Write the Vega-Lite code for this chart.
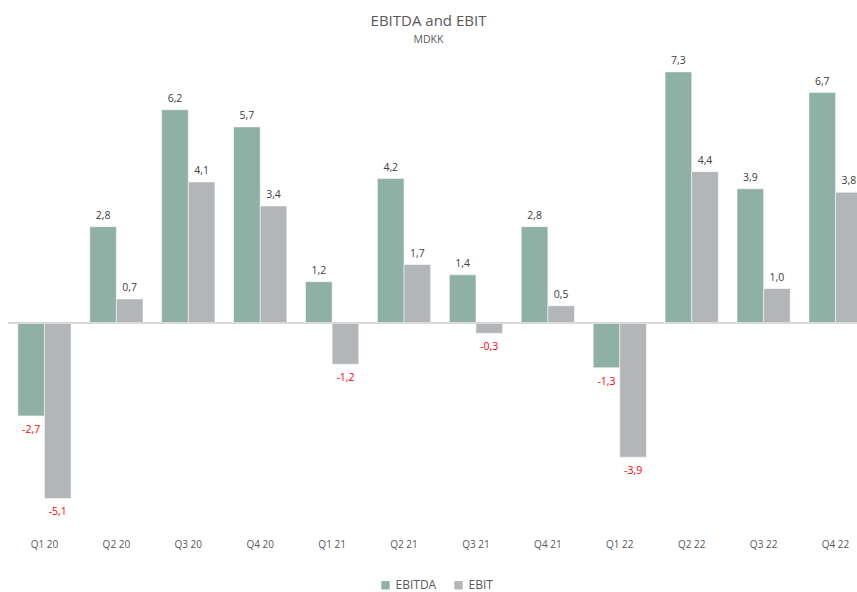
{
  "$schema": "https://vega.github.io/schema/vega-lite/v6.json",
  "autosize": "none",
  "width": 848,
  "height": 481.6,
  "padding": {"left": 8.5, "top": 47.8, "right": 0, "bottom": 62.6},
  "background": "white",
  "config": {
    "view": {"stroke": null},
    "font": "Open Sans",
    "locale": {"number": {"decimal": ",", "thousands": ".", "grouping": [3], "currency": ["", " kr"], "minus": "-"}}
  },
  "title": {
    "text": "EBITDA and EBIT",
    "subtitle": "MDKK",
    "font": "Open Sans",
    "fontSize": 15,
    "fontWeight": "normal",
    "color": "#595959",
    "subtitleFont": "Open Sans",
    "subtitleFontSize": 10.5,
    "subtitleColor": "#595959",
    "subtitlePadding": 6,
    "anchor": "middle",
    "dx": -4,
    "offset": 2
  },
  "data": {
    "values": [
      {"q": "Q1 20", "series": "EBITDA", "v": -2.7}, {"q": "Q1 20", "series": "EBIT", "v": -5.1},
      {"q": "Q2 20", "series": "EBITDA", "v": 2.8}, {"q": "Q2 20", "series": "EBIT", "v": 0.7},
      {"q": "Q3 20", "series": "EBITDA", "v": 6.2}, {"q": "Q3 20", "series": "EBIT", "v": 4.1},
      {"q": "Q4 20", "series": "EBITDA", "v": 5.7}, {"q": "Q4 20", "series": "EBIT", "v": 3.4},
      {"q": "Q1 21", "series": "EBITDA", "v": 1.2}, {"q": "Q1 21", "series": "EBIT", "v": -1.2},
      {"q": "Q2 21", "series": "EBITDA", "v": 4.2}, {"q": "Q2 21", "series": "EBIT", "v": 1.7},
      {"q": "Q3 21", "series": "EBITDA", "v": 1.4}, {"q": "Q3 21", "series": "EBIT", "v": -0.3},
      {"q": "Q4 21", "series": "EBITDA", "v": 2.8}, {"q": "Q4 21", "series": "EBIT", "v": 0.5},
      {"q": "Q1 22", "series": "EBITDA", "v": -1.3}, {"q": "Q1 22", "series": "EBIT", "v": -3.9},
      {"q": "Q2 22", "series": "EBITDA", "v": 7.3}, {"q": "Q2 22", "series": "EBIT", "v": 4.4},
      {"q": "Q3 22", "series": "EBITDA", "v": 3.9}, {"q": "Q3 22", "series": "EBIT", "v": 1.0},
      {"q": "Q4 22", "series": "EBITDA", "v": 6.7}, {"q": "Q4 22", "series": "EBIT", "v": 3.8}
    ]
  },
  "encoding": {
    "x": {
      "field": "q", "type": "nominal", "sort": null,
      "scale": {"range": [0, 863], "paddingInner": 0.26, "paddingOuter": 0.13},
      "axis": {"title": null, "domain": false, "ticks": false, "grid": false, "labelAngle": 0,
               "labelFont": "Open Sans", "labelFontSize": 10, "labelColor": "#595959", "labelPadding": 10}
    },
    "xOffset": {"field": "series", "type": "nominal", "sort": ["EBITDA", "EBIT"]},
    "y": {
      "field": "v", "type": "quantitative",
      "scale": {"domain": [-6, 8], "nice": false, "zero": false},
      "axis": null
    }
  },
  "layer": [
    {
      "mark": {"type": "bar", "stroke": "white", "strokeWidth": 0.5},
      "encoding": {
        "color": {
          "field": "series", "type": "nominal",
          "scale": {"domain": ["EBITDA", "EBIT"], "range": ["#8FB0A4", "#B2B6B9"]},
          "legend": {
            "title": null, "orient": "none", "direction": "horizontal",
            "legendX": 371, "legendY": 531.5,
            "symbolType": "square", "symbolSize": 70, "symbolStrokeWidth": 0,
            "labelFont": "Open Sans", "labelFontSize": 12, "labelColor": "#595959",
            "columnPadding": 16, "labelOffset": 4
          }
        }
      }
    },
    {
      "mark": {"type": "rule", "color": "#D9D9D9", "strokeWidth": 1.2},
      "encoding": {"x": null, "xOffset": null, "y": {"datum": 0, "type": "quantitative"}}
    },
    {
      "transform": [{"filter": "datum.v >= 0"}],
      "mark": {"type": "text", "baseline": "bottom", "dy": -6, "fontSize": 10.5, "color": "#404040", "font": "Open Sans"},
      "encoding": {"text": {"field": "v", "type": "quantitative", "format": ".1f"}}
    },
    {
      "transform": [{"filter": "datum.v < 0"}],
      "mark": {"type": "text", "baseline": "top", "dy": 9, "fontSize": 10.5, "color": "#FF0000", "font": "Open Sans"},
      "encoding": {"text": {"field": "v", "type": "quantitative", "format": ".1f"}}
    }
  ]
}
